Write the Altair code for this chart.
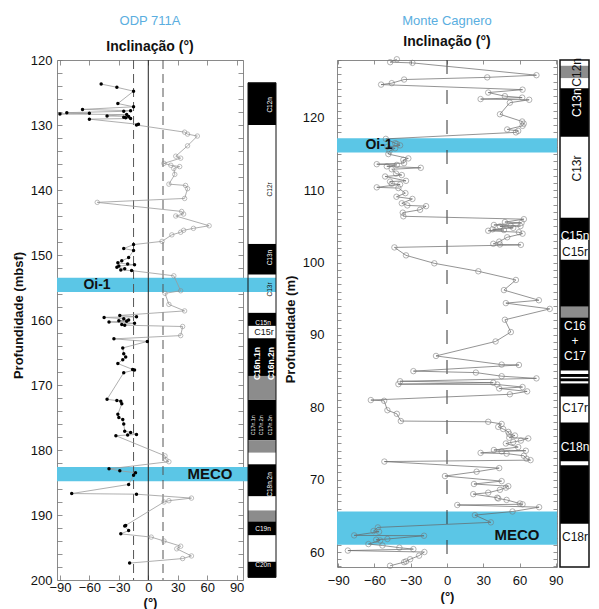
import altair as alt
import pandas as pd

FONT = "Liberation Sans"
TITLE_BLUE = "#5aaee0"
BAND = "#5bc6e6"
GRAY = "#8c8c8c"

# ---------------- ODP 711A : depth (mbsf), inclination (deg), polarity ----------------
odp_depth = [123.7, 124.2, 124.8, 126.7, 127.2, 127.6, 127.8, 127.9, 128.1, 128.2,
             128.3, 128.4, 128.6, 128.7, 128.8, 128.9, 129.0, 129.1, 129.9, 130.0,
             131.1, 131.4, 131.7, 133.2, 134.8, 135.1, 135.9, 136.2, 136.4, 136.7,
             137.6, 139.1, 139.3, 139.8, 141.3, 141.9, 143.3, 143.7, 144.0, 145.5,
             145.9, 146.2, 146.5, 146.9, 147.9,
             148.4, 149.0, 149.3, 150.4, 150.9, 151.2, 151.4, 151.5, 151.7, 151.9, 152.1, 152.3, 152.4,
             153.2, 155.5, 155.9, 157.6, 158.6,
             159.3, 159.5, 159.6, 159.8, 160.0, 160.1, 160.2, 160.3, 160.5, 160.7, 160.8,
             161.0, 162.4,
             162.9, 163.3, 164.3, 165.2, 165.7, 166.1, 166.7, 167.6, 167.7, 168.1,
             172.2, 172.4, 172.5, 172.9, 174.5, 175.0, 175.3, 176.0, 177.1, 177.3, 177.6, 177.7, 177.8,
             180.9, 181.5, 181.8,
             182.9, 183.2, 183.5, 183.9, 185.3, 186.7, 186.8,
             187.4, 187.8, 188.0,
             191.6, 191.7, 192.4, 192.9,
             193.4, 194.0, 194.8, 195.2, 196.3, 196.7,
             197.4]
odp_incl = [-48, -32, -15, -31, -15, -67, -18, -25, -83, -60,
            -90, -22, -42, -20, -25, -23, -18, -60, -10, -12,
            37, 40, 50, 40, 28, 33, 16, 23, 32, 26,
            27, 21, 38, 40, 37, -52, 34, 36, 28, 62,
            46, 36, 33, 24, 14,
            -15, -25, -15, -20, -27, -31, -21, -14, -30, -32, -24, -28, -17,
            26, 33, 17, 21, 37,
            -29, -12, -45, -25, -20, -30, -22, -40, -14, -27, -24,
            35, 33,
            -35, -1, -26, -25, -23, -26, -31, -16, -14, -25,
            -42, -32, -28, -27, -31, -30, -26, -25, -24, -18, -12, -21, -33,
            17, 18, 21,
            -40, -29, -13, -15, -20, -78, -12,
            44, 21, 16,
            -23, -24, -20, -28,
            3, 16, 33, 29, 44, 35,
            -19]
odp_pol = list("RRRRRRRRRRRRRRRRRRRR"
               "NNNNNNNNNNNNNNNNNNNNNNNNN"
               "RRRRRRRRRRRRR"
               "NNNNN"
               "RRRRRRRRRRR"
               "NN"
               "RRRRRRRRRR"
               "RRRRRRRRRRRRR"
               "NNN"
               "RRRRRRR"
               "NNN"
               "RRRR"
               "NNNNNN"
               "R")

# ---------------- Monte Cagnero : height (m), inclination (deg) ----------------
mc_depth = [128.1, 127.7, 127.6, 125.9, 125.6, 125.3, 124.8, 124.6, 123.9, 123.5,
            123.0, 122.8, 122.6, 122.5, 122.1, 120.5, 119.5, 119.2, 118.9, 118.4,
            118.2, 118.0, 117.1, 116.5, 116.4, 116.2, 116.0, 115.8, 115.4, 115.0,
            114.4, 114.2, 113.75, 113.6, 113.5, 113.3, 113.1, 112.9, 112.3, 112.1,
            111.9, 111.3, 111.2, 110.9, 110.8, 110.4, 110.3, 109.6, 109.1, 108.8,
            108.2, 107.9, 107.8, 107.3, 106.9, 106.4, 106.0, 105.6, 105.5, 105.2,
            105.1, 105.05, 105.0, 104.8, 104.6, 104.5, 104.4, 104.2, 104.0, 103.5,
            102.9, 102.6, 102.5, 102.45, 102.1, 101.0, 99.9, 98.8, 97.6, 96.2,
            94.8, 94.4, 93.6, 92.1, 90.4, 89.1, 87.1, 85.9, 85.85, 85.0,
            84.8, 84.3, 84.0, 83.6, 83.4, 83.2, 83.15, 82.8, 82.6, 82.2,
            81.8, 81.0, 80.9, 79.6, 79.1, 78.1, 78.0, 77.7, 77.3, 77.0,
            76.6, 76.3, 76.1, 75.8, 75.7, 75.4, 75.2, 75.0, 74.5, 74.1,
            74.0, 73.9, 73.7, 73.6, 73.3, 72.9, 72.7, 72.5, 71.6, 71.1,
            70.5, 69.8, 69.4, 69.1, 68.9, 68.6, 68.2, 68.0, 67.5, 67.4,
            67.2, 66.7, 66.6, 66.5, 66.2, 65.6, 65.1, 64.1, 63.4, 62.9,
            62.8, 62.3, 62.25, 61.8, 61.7, 61.6, 61.1, 60.9, 60.6, 60.4,
            60.2, 60.0, 59.5, 59.0, 58.7, 58.6, 58.1]
mc_incl = [-41.5, -47.0, -28.6, 74.0, 33.3, -35.5, -45.7, -54.5, 62.5, 34.1,
           47.9, 62.2, 27.8, 68.0, 52.0, 43.8, 62.2, 63.5, 62.5, 49.8,
           58.9, 57.0, -50.6, -42.9, -41.5, -38.8, -49.3, -42.9, -47.6, -48.5,
           -32.0, -36.1, -35.5, -58.1, -41.5, -49.8, -21.7, -45.7, -42.1, -37.4,
           -51.2, -33.9, -47.1, -45.7, -38.8, -58.1, -40.2, -34.4, -41.8, -28.6,
           -37.4, -32.8, -17.3, -22.3, -36.6, -36.1, 63.6, 47.9, 61.7, 38.8,
           52.6, 60.8, 43.8, 54.8, 37.7, 47.1, 34.1, 59.5, 62.5, 49.8,
           43.2, 38.3, 43.8, 61.1, -43.5, -33.9, -10.5, 25.9, 57.0, 47.1,
           76.0, 48.7, 85.0, 47.9, 52.8, 40.2, -9.1, 45.2, 59.5, -27.8,
           23.9, 45.2, 74.0, -38.8, 38.3, -40.2, 41.6, 62.5, 43.2, 66.3,
           52.0, -63.0, -52.0, -49.3, -41.5, -38.2, 34.1, 45.2, 42.4, 46.5,
           50.7, 51.5, 56.2, 51.5, 67.2, 61.1, 54.8, 48.7, 58.9, 38.8,
           65.2, 45.2, 27.8, 49.3, 63.6, 65.8, 69.1, -51.8, 43.2, 24.5,
           -1.7, 45.2, 22.3, 50.7, 48.7, 43.8, 34.1, 21.7, 41.6, 42.4,
           49.3, 60.3, 62.5, 8.5, 76.2, 54.2, 23.1, 36.3, -57.2, -60.8,
           -56.2, -76.8, -19.0, -49.3, -58.6, -55.3, -65.0, -53.4, -39.4, -27.8,
           -82.0, -18.7, -23.1, -30.5, -33.9, -35.5, -47.1]

# ---------------- event bands ----------------
band_names = ["Oi-1", "MECO"]
odp_band_top = [153.5, 182.6]
odp_band_base = [155.7, 184.8]
mc_band_top = [117.2, 65.6]
mc_band_base = [115.2, 61.0]

# ---------------- magnetostratigraphic columns (N normal, R reversed, U uncertain) ----------------
odp_chron_top = [123.5, 130.0, 148.3, 153.0, 158.9, 160.9, 162.8, 168.6, 172.3, 178.5,
                 180.4, 182.2, 187.1, 189.3, 191.0, 193.1, 197.2]
odp_chron_base = [130.0, 148.3, 153.0, 158.9, 160.9, 162.8, 168.6, 172.3, 178.5, 180.4,
                  182.2, 187.1, 189.3, 191.0, 193.1, 197.2, 199.6]
odp_chron_pol = ["N", "R", "N", "R", "N", "R", "N", "U", "N", "U",
                 "R", "N", "R", "U", "N", "R", "N"]

mc_chron_top = [128.0, 127.2, 125.5, 124.1, 117.4, 106.2, 103.2, 100.4, 93.9, 92.4,
                85.1, 84.6, 84.2, 84.0, 83.6, 83.3, 81.5, 77.9, 72.55, 72.0, 63.9]
mc_chron_base = [127.2, 125.5, 124.1, 117.4, 106.2, 103.2, 100.4, 93.9, 92.4, 85.1,
                 84.6, 84.2, 84.0, 83.6, 83.3, 81.5, 77.9, 72.55, 72.0, 63.9, 57.93]
mc_chron_pol = ["R", "U", "R", "N", "R", "N", "R", "N", "U", "N",
                "R", "N", "R", "N", "R", "N", "R", "N", "R", "N", "R"]

# chron labels
odp_lab_rot = ["C12n", "C12r", "C13n", "C13r", "C18n.2n"]
odp_lab_rot_depth = [126.9, 139.9, 150.4, 155.3, 185.3]
odp_lab_rot_pol = ["N", "R", "N", "R", "N"]
odp_lab_hor = ["C15n", "C15r", "C19n", "C20n"]
odp_lab_hor_depth = [160.4, 161.9, 192.2, 197.7]
odp_lab_hor_pol = ["N", "R", "N", "N"]
odp_lab_c16 = ["C16n.1n", "C16n.2n"]
odp_lab_c16_depth = [166.7, 166.7]
odp_lab_c17 = ["C17n.1n", "C17n.2n", "C17n.3n"]
odp_lab_c17_depth = [176.2, 176.2, 176.2]

mc_lab_rot = ["C12n", "C13n", "C13r"]
mc_lab_rot_depth = [126.3, 122.1, 113.0]
mc_lab_rot_pol = ["R", "N", "R"]
mc_lab_hor = ["C15n", "C15r", "C16\n+\nC17", "C17r", "C18n", "C18r"]
mc_lab_hor_depth = [103.7, 101.4, 91.2, 79.9, 74.5, 62.1]
mc_lab_hor_pol = ["N", "R", "N", "R", "N", "R"]

# ---------------- tables ----------------
odp_df = pd.DataFrame({"depth": odp_depth, "incl": odp_incl, "pol": odp_pol})
mc_df = pd.DataFrame({"depth": mc_depth, "incl": mc_incl})
odp_band_df = pd.DataFrame({"name": band_names, "top": odp_band_top, "base": odp_band_base})
mc_band_df = pd.DataFrame({"name": band_names, "top": mc_band_top, "base": mc_band_base})
odp_chron_df = pd.DataFrame({"top": odp_chron_top, "base": odp_chron_base, "pol": odp_chron_pol})
mc_chron_df = pd.DataFrame({"top": mc_chron_top, "base": mc_chron_base, "pol": mc_chron_pol})

LW, LH = 186, 520
RW, RH = 220, 507
LCW, RCW = 94, 32

xs_l = alt.Scale(domain=[-93, 96.5], nice=False, zero=False)
ys_l = alt.Scale(domain=[120, 200], reverse=True, nice=False, zero=False)
xs_r = alt.Scale(domain=[-91, 91], nice=False, zero=False)
ys_r = alt.Scale(domain=[57.93, 128.0], nice=False, zero=False)

X_TICKS = [-90, -60, -30, 0, 30, 60, 90]


def axis(orient, values, labels=True, title=None, label_pad=0, tick=5,
         label_expr=None, title_pad=0, title_y=None):
    kw = dict(orient=orient, values=values, labels=labels, domain=False, grid=False,
              ticks=True, tickSize=alt.ExprRef(expr=str(-tick)), tickColor="#777",
              tickWidth=0.8, labelFont=FONT, labelFontSize=13, labelColor="#111",
              labelPadding=label_pad, labelOverlap=False, labelFlush=False,
              titleFont=FONT, titleFontSize=13, titleFontWeight="bold",
              titleColor="#111", titlePadding=title_pad, title=title)
    if label_expr:
        kw["labelExpr"] = label_expr
    if title_y is not None:
        kw["titleY"] = title_y
    return alt.Axis(**kw)


TEN = "datum.value % 10 === 0 ? datum.label : ''"
dummy = pd.DataFrame({"k": [0]})


def band_layers(band_df, ys, width):
    return alt.Chart(band_df).mark_rect(color=BAND).encode(
        x=alt.value(0), x2=alt.value(width),
        y=alt.Y("top:Q", scale=ys, axis=None), y2="base:Q")


def band_label(band_df, ys, name, xpx, size, dy=0):
    return alt.Chart(band_df).transform_filter(
        alt.datum.name == name
    ).transform_calculate(mid="(datum.top + datum.base) / 2").mark_text(
        font=FONT, fontSize=size, fontWeight="bold", color="#111", align="center",
        baseline="middle", dy=dy
    ).encode(x=alt.value(xpx), y=alt.Y("mid:Q", scale=ys, axis=None), text="name:N")


# ---------------- left plot (ODP 711A) ----------------
l_band = band_layers(odp_band_df, ys_l, LW)
l_zero = alt.Chart(dummy).mark_rule(color="#222", strokeWidth=1).encode(
    x=alt.XDatum(0, scale=xs_l, axis=None))
l_m15 = alt.Chart(dummy).mark_rule(color="#555", strokeWidth=1, strokeDash=[9, 5]).encode(
    x=alt.XDatum(-15, scale=xs_l, axis=None))
l_p15 = alt.Chart(dummy).mark_rule(color="#555", strokeWidth=1, strokeDash=[9, 5]).encode(
    x=alt.XDatum(15, scale=xs_l, axis=None))
l_line = alt.Chart(odp_df).mark_line(color="#9a9a9a", strokeWidth=0.8).encode(
    x=alt.X("incl:Q", scale=xs_l,
            axis=axis("bottom", X_TICKS, title="(°)", label_pad=6, title_pad=2)),
    y=alt.Y("depth:Q", scale=ys_l,
            axis=axis("left", list(range(120, 201, 2)), title="Profundidade (mbsf)",
                      label_pad=10, label_expr=TEN, title_pad=5, title_y=255)),
    order="depth:Q")
l_mirror = alt.Chart(odp_df).mark_point(opacity=0).encode(
    x=alt.X("incl:Q", scale=xs_l, axis=axis("top", X_TICKS, labels=False)),
    y=alt.Y("depth:Q", scale=ys_l, axis=axis("right", list(range(120, 201, 2)), labels=False)))
l_open = alt.Chart(odp_df).transform_filter(alt.datum.pol == "N").mark_point(
    shape="circle", size=20, color="#8a8a8a", filled=False, strokeWidth=0.8
).encode(x=alt.X("incl:Q", scale=xs_l, axis=None), y=alt.Y("depth:Q", scale=ys_l, axis=None))
l_fill = alt.Chart(odp_df).transform_filter(alt.datum.pol == "R").mark_circle(
    size=12, color="#000", opacity=1
).encode(x=alt.X("incl:Q", scale=xs_l, axis=None), y=alt.Y("depth:Q", scale=ys_l, axis=None))
l_lab1 = band_label(odp_band_df, ys_l, "Oi-1", 40, 14)
l_lab2 = band_label(odp_band_df, ys_l, "MECO", 153, 15)

left_plot = alt.layer(
    l_band, l_zero, l_m15, l_p15, l_line, l_mirror, l_open, l_fill, l_lab1, l_lab2
).resolve_axis(x="independent", y="independent").properties(
    width=LW, height=LH,
    view=alt.ViewBackground(stroke="#8a8a8a", strokeWidth=1),
    title=alt.TitleParams(
        "ODP 711A", subtitle="Inclinação (°)", anchor="middle", frame="group",
        font=FONT, fontSize=13, fontWeight="normal", color=TITLE_BLUE,
        subtitleFont=FONT, subtitleFontSize=14, subtitleFontWeight="bold",
        subtitleColor="#111", subtitlePadding=12, offset=0))

# ---------------- left polarity column ----------------
COLX0, COLX1 = 5, 33


def col_text(names, depths, pols, ys, xpx, size, angle=0, bold=False):
    df = pd.DataFrame({"name": names, "depth": depths, "pol": pols})
    kw = dict(font=FONT, fontSize=size, align="center", baseline="middle",
              fontWeight="bold" if bold else "normal", lineBreak="\n", lineHeight=size + 3)
    if angle:
        kw["angle"] = angle
    return alt.Chart(df).mark_text(**kw).encode(
        x=alt.value(xpx), y=alt.Y("depth:Q", scale=ys, axis=None), text="name:N",
        color=alt.condition("datum.pol == 'R'", alt.value("#111"), alt.value("white")))


lc_band = alt.Chart(odp_band_df).mark_rect(color=BAND).encode(
    x=alt.value(0), x2=alt.value(COLX1),
    y=alt.Y("top:Q", scale=ys_l, axis=None), y2="base:Q")
lc_rects = alt.Chart(odp_chron_df).transform_filter("datum.pol != 'R'").mark_rect().encode(
    x=alt.value(COLX0), x2=alt.value(COLX1),
    y=alt.Y("top:Q", scale=ys_l, axis=None), y2="base:Q",
    color=alt.Color("pol:N", scale=alt.Scale(domain=["N", "U"], range=["#000", GRAY]), legend=None))
lc_outline = alt.Chart(odp_chron_df).transform_aggregate(
    t="min(top)", b="max(base)").mark_rect(fillOpacity=0, stroke="#111", strokeWidth=1).encode(
    x=alt.value(COLX0), x2=alt.value(COLX1),
    y=alt.Y("t:Q", scale=ys_l, axis=None), y2="b:Q")
lc_t1 = col_text(odp_lab_rot, odp_lab_rot_depth, odp_lab_rot_pol, ys_l, 27, 6.5, angle=270)
lc_t2 = alt.layer(
    col_text(odp_lab_hor[:1], odp_lab_hor_depth[:1], odp_lab_hor_pol[:1], ys_l, 20, 6.5),
    col_text(odp_lab_hor[1:2], odp_lab_hor_depth[1:2], odp_lab_hor_pol[1:2], ys_l, 21, 9),
    col_text(odp_lab_hor[2:], odp_lab_hor_depth[2:], odp_lab_hor_pol[2:], ys_l, 20, 6.5))
lc_t3 = alt.layer(
    col_text(odp_lab_c16[:1], odp_lab_c16_depth[:1], ["N"], ys_l, 14, 8.5, angle=270, bold=True),
    col_text(odp_lab_c16[1:], odp_lab_c16_depth[1:], ["N"], ys_l, 28, 8.5, angle=270, bold=True))
lc_t4 = alt.layer(
    col_text(odp_lab_c17[:1], odp_lab_c17_depth[:1], ["N"], ys_l, 10, 5.3, angle=270),
    col_text(odp_lab_c17[1:2], odp_lab_c17_depth[1:2], ["N"], ys_l, 18, 5.3, angle=270),
    col_text(odp_lab_c17[2:], odp_lab_c17_depth[2:], ["N"], ys_l, 27, 5.3, angle=270))

left_col = alt.layer(lc_band, lc_rects, lc_outline, lc_t1, lc_t2, lc_t3, lc_t4).properties(
    width=LCW, height=LH, view=alt.ViewBackground(stroke=None))

# ---------------- right plot (Monte Cagnero) ----------------
r_band = band_layers(mc_band_df, ys_r, RW)
r_zero = alt.Chart(dummy).mark_rule(color="#333", strokeWidth=1, strokeDash=[14, 16]).encode(
    x=alt.XDatum(0, scale=xs_r, axis=None))
r_line = alt.Chart(mc_df).mark_line(color="#666", strokeWidth=0.7).encode(
    x=alt.X("incl:Q", scale=xs_r,
            axis=axis("bottom", X_TICKS, title="(°)", label_pad=11, title_pad=3, tick=4)),
    y=alt.Y("depth:Q", scale=ys_r,
            axis=axis("left", list(range(58, 129)), title="Profundidade (m)",
                      label_pad=17, label_expr=TEN, title_pad=5, title_y=269, tick=4)),
    order="depth:Q")
r_mirror = alt.Chart(mc_df).mark_point(opacity=0).encode(
    x=alt.X("incl:Q", scale=xs_r, axis=axis("top", X_TICKS, labels=False, tick=4)),
    y=alt.Y("depth:Q", scale=ys_r, axis=axis("right", list(range(58, 129)), labels=False, tick=4)))
r_pts = alt.Chart(mc_df).mark_point(
    shape="circle", size=30, color="#777", filled=False, strokeWidth=0.8
).encode(x=alt.X("incl:Q", scale=xs_r, axis=None), y=alt.Y("depth:Q", scale=ys_r, axis=None))
r_lab1 = band_label(mc_band_df, ys_r, "Oi-1", 42, 14)
r_lab2 = band_label(mc_band_df, ys_r, "MECO", 180, 15, dy=7)

right_plot = alt.layer(
    r_band, r_zero, r_line, r_mirror, r_pts, r_lab1, r_lab2
).resolve_axis(x="independent", y="independent").properties(
    width=RW, height=RH,
    view=alt.ViewBackground(stroke="#8a8a8a", strokeWidth=1),
    title=alt.TitleParams(
        "Monte Cagnero", subtitle="Inclinação (°)", anchor="middle", frame="group",
        font=FONT, fontSize=13, fontWeight="normal", color=TITLE_BLUE,
        subtitleFont=FONT, subtitleFontSize=14, subtitleFontWeight="bold",
        subtitleColor="#111", subtitlePadding=7, offset=5))

# ---------------- right polarity column ----------------
RX0, RX1 = 3, RCW
rc_rects = alt.Chart(mc_chron_df).transform_filter("datum.pol != 'R'").mark_rect().encode(
    x=alt.value(RX0), x2=alt.value(RX1),
    y=alt.Y("top:Q", scale=ys_r, axis=None), y2="base:Q",
    color=alt.Color("pol:N", scale=alt.Scale(domain=["N", "U"], range=["#000", GRAY]), legend=None))
rc_outline = alt.Chart(mc_chron_df).transform_aggregate(
    t="max(top)", b="min(base)").mark_rect(fillOpacity=0, stroke="#111", strokeWidth=1.5).encode(
    x=alt.value(RX0), x2=alt.value(RX1),
    y=alt.Y("t:Q", scale=ys_r, axis=None), y2="b:Q")
rc_t1 = col_text(mc_lab_rot, mc_lab_rot_depth, mc_lab_rot_pol, ys_r, 20, 12, angle=270)
rc_t2 = col_text(mc_lab_hor, mc_lab_hor_depth, mc_lab_hor_pol, ys_r, 18, 12)

right_col = alt.layer(rc_rects, rc_outline, rc_t1, rc_t2).properties(
    width=RCW, height=RH, view=alt.ViewBackground(stroke=None))

chart = alt.hconcat(left_plot, left_col, right_plot, right_col, spacing=0, bounds="flush").properties(
    padding={"left": 3, "top": 6, "right": 0, "bottom": 2}
).configure_view(stroke=None)

chart.save("out.html", embed_options={"renderer": "svg", "actions": False})
